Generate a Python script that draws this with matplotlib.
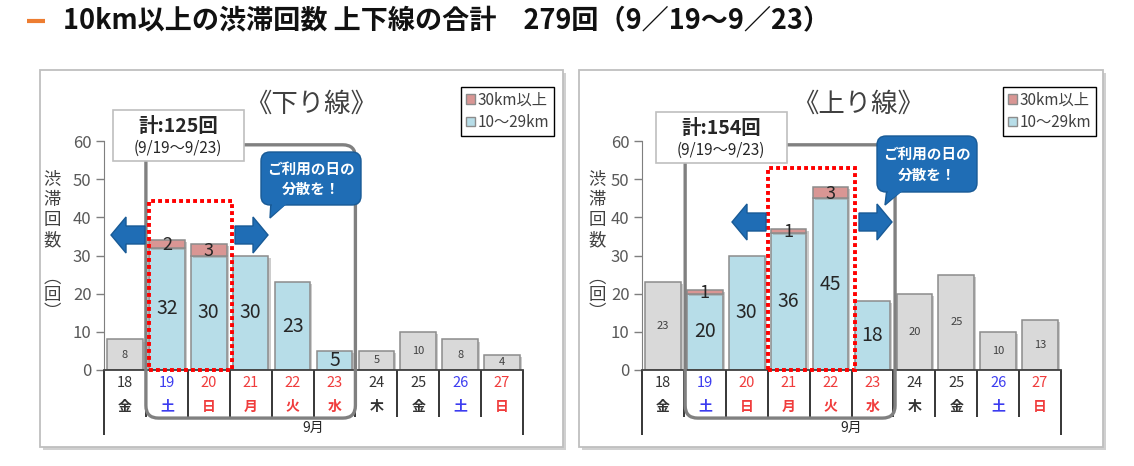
import matplotlib
matplotlib.use("Agg")
import matplotlib.pyplot as plt
import matplotlib.patheffects as pe
from matplotlib.patches import Rectangle, FancyBboxPatch, Polygon, Patch

plt.rcParams['font.family'] = ['Noto Sans CJK JP', 'DejaVu Sans']

# data
days = ['18', '19', '20', '21', '22', '23', '24', '25', '26', '27']
weekdays = ['金', '土', '日', '月', '火', '水', '木', '金', '土', '日']
day_colors = ['#333333', '#3c3cf0', '#f03c3c', '#f03c3c', '#f03c3c', '#f03c3c',
              '#333333', '#333333', '#3c3cf0', '#f03c3c']
down_short = [8, 32, 30, 30, 23, 5, 5, 10, 8, 4]      # 10~29km
down_long = [0, 2, 3, 0, 0, 0, 0, 0, 0, 0]            # 30km以上
up_short = [23, 20, 30, 36, 45, 18, 20, 25, 10, 13]
up_long = [0, 1, 0, 1, 3, 0, 0, 0, 0, 0]
period = [1, 2, 3, 4, 5]                              # 9/19~9/23

BLUE_BAR = '#b7dde8'
PINK_BAR = '#d99694'
GRAY_BAR = '#d9d9d9'
EDGE = '#8c8c8c'
CALLOUT = '#1f6db5'

W, H = 1134, 466
fig = plt.figure(figsize=(W / 100, H / 100), dpi=100)

# background layer in pixel coordinates
bg = fig.add_axes([0, 0, 1, 1], zorder=0)
bg.set_xlim(0, W)
bg.set_ylim(H, 0)
bg.axis('off')

# overlay layer for boxes, arrows, callouts
ov = fig.add_axes([0, 0, 1, 1], zorder=3)
ov.set_xlim(0, W)
ov.set_ylim(H, 0)
ov.axis('off')
ov.patch.set_alpha(0)

# header
bg.plot([27, 45], [21, 21], color='#ed7d31', lw=3, solid_capstyle='butt')
bg.text(63, 21, '10km以上の渋滞回数 上下線の合計　279回（9／19〜9／23）',
        fontsize=19.5, fontweight='bold', color='#111111', va='center', ha='left')

bar_shadow = [pe.SimplePatchShadow(offset=(1.5, -1.5), shadow_rgbFace='#9a9a9a', alpha=0.5),
              pe.Normal()]


def arrow(x_tail, x_tip, y):
    d = 1 if x_tip > x_tail else -1
    hl, hh, sh = 15, 18, 9
    pts = [(x_tail, y - sh), (x_tip - d * hl, y - sh), (x_tip - d * hl, y - hh),
           (x_tip, y), (x_tip - d * hl, y + hh), (x_tip - d * hl, y + sh), (x_tail, y + sh)]
    ov.add_patch(Polygon(pts, closed=True, fc=CALLOUT, ec='#185a96', lw=1))


def callout(x0, y0, w, h, tip):
    ov.add_patch(Polygon([(x0 + 10, y0 + h - 4), (x0 + 28, y0 + h - 4), tip],
                         closed=True, fc=CALLOUT, ec='#185a96', lw=1))
    ov.add_patch(FancyBboxPatch((x0, y0), w, h, boxstyle='round,pad=0,rounding_size=9',
                                fc=CALLOUT, ec='#185a96', lw=1))
    ov.add_patch(Polygon([(x0 + 11, y0 + h - 2), (x0 + 27, y0 + h - 2), (tip[0] + 2, tip[1] - 3)],
                         closed=True, fc=CALLOUT, ec='none'))
    ov.text(x0 + w / 2, y0 + h * 0.31, 'ご利用の日の', color='white', fontsize=10.5,
            fontweight='bold', ha='center', va='center')
    ov.text(x0 + w / 2, y0 + h * 0.69, '分散を！', color='white', fontsize=10.5,
            fontweight='bold', ha='center', va='center')


def panel(px, ax_x, short, long_, title, total, title_x, box_x, box_y,
          legend_right, dotted, rr, arrows, call, ylab_x):
    # panel frame with a light shadow
    bg.add_patch(Rectangle((px[0] + 3, 73), px[1] - px[0], 377, fc='#d0d0d0', ec='none'))
    bg.add_patch(Rectangle((px[0], 70), px[1] - px[0], 377, fc='white', ec='#bfbfbf', lw=1.3))

    ax = fig.add_axes([ax_x / W, (H - 370) / H, 419 / W, 229 / H], zorder=1)
    ax.patch.set_alpha(0)
    x = list(range(len(days)))
    colors = [BLUE_BAR if i in period else GRAY_BAR for i in x]
    b1 = ax.bar(x, short, width=0.85, color=colors, edgecolor=EDGE, lw=1.1, zorder=2)
    b2 = ax.bar(x, long_, bottom=short, width=0.85, color=PINK_BAR, edgecolor=EDGE, lw=1.1, zorder=2)
    for r in list(b1) + [r for r, v in zip(b2, long_) if v]:
        r.set_path_effects(bar_shadow)
    for r, v in zip(b2, long_):
        if not v:
            r.set_visible(False)

    for i in x:
        if i in period:
            ax.text(i, short[i] / 2, str(short[i]), ha='center', va='center',
                    fontsize=14, color='#262626', zorder=4)
            if long_[i]:
                ax.text(i, short[i] + long_[i] / 2 - 0.3, str(long_[i]), ha='center',
                        va='center', fontsize=13, color='#262626', zorder=4)
        else:
            ax.text(i, short[i] / 2, str(short[i]), ha='center', va='center',
                    fontsize=8, color='#404040', zorder=4)

    ax.set_xlim(-0.5, len(days) - 0.5)
    ax.set_ylim(0, 60)
    ax.set_yticks(range(0, 61, 10))
    ax.tick_params(axis='y', labelsize=12, labelcolor='#595959', color='#7f7f7f',
                   length=6, width=1, pad=3)
    ax.set_xticks([])
    for s in ['top', 'right']:
        ax.spines[s].set_visible(False)
    ax.spines['left'].set_color('#7f7f7f')
    ax.spines['bottom'].set_color('#404040')
    ax.spines['bottom'].set_linewidth(1.3)

    # category table below the axis
    bounds = [i + 0.5 for i in x[:-1]]
    ax.vlines(bounds, -12.3, 0, color='#262626', lw=1.3, clip_on=False, zorder=1)
    ax.vlines([-0.5, len(days) - 0.5], -17, 0, color='#262626', lw=1.3, clip_on=False)
    for i in x:
        ax.text(i, -3.4, days[i], ha='center', va='center', fontsize=10.5,
                color=day_colors[i])
        ax.text(i, -9.6, weekdays[i], ha='center', va='center', fontsize=10,
                fontweight='bold', color=day_colors[i])
    ax.text((len(days) - 1) / 2, -15.3, '9月', ha='center', va='center',
            fontsize=10, color='#262626')

    # grey rounded frame around the highlighted period
    asp = (419 / len(days)) / (229 / 60)
    ax.add_patch(FancyBboxPatch((rr[0], -12.6), rr[1] - rr[0], 71.6,
                                boxstyle='round,pad=0,rounding_size=0.3',
                                mutation_aspect=asp, fc='none', ec='#808080',
                                lw=2.4, clip_on=False, zorder=3))
    # red dotted box
    ax.add_patch(Rectangle((dotted[0], 0), dotted[1] - dotted[0], dotted[2], fc='none',
                           ec='#ff0000', lw=2.8, ls=(0, (1, 0.8)), clip_on=False, zorder=5))

    ax.legend(handles=[Patch(fc=PINK_BAR, ec=EDGE), Patch(fc=BLUE_BAR, ec=EDGE)],
              labels=['30km以上', '10〜29km'], loc='upper right',
              bbox_to_anchor=(legend_right / W, 1 - 87 / H), bbox_transform=fig.transFigure,
              fancybox=False, edgecolor='black', framealpha=1, fontsize=11,
              handlelength=0.6, handleheight=0.6, handletextpad=0.2, labelspacing=0.35,
              borderpad=0.3, borderaxespad=0, labelcolor='#404040')

    fig.text(title_x / W, 1 - 104 / H, title, ha='center', va='center',
             fontsize=19, color='#404040')

    # total box
    ov.add_patch(Rectangle((box_x, box_y), 131, 51, fc='white', ec='#bfbfbf', lw=1.2))
    ov.text(box_x + 65, box_y + 16, f'計:{total}回', fontsize=14, fontweight='bold',
            ha='center', va='center', color='#262626')
    ov.text(box_x + 65, box_y + 38, '(9/19〜9/23)', fontsize=11,
            ha='center', va='center', color='#262626')

    for a in arrows:
        arrow(*a)
    callout(*call)

    # vertical axis title
    bg.text(ylab_x, 210, '渋\n滞\n回\n数', ha='center', va='center', fontsize=12.5,
            color='#404040', linespacing=1.15)
    bg.text(ylab_x, 295, '︵\n回\n︶', ha='center', va='center', fontsize=12.5,
            color='#404040', linespacing=0.95)


panel((40, 563), 104, down_short, down_long, '《下り線》', 125, 311, 113, 110, 554,
      (0.58, 2.55, 44.2), (0.5, 5.5),
      [(145, 111, 235), (235, 268, 235)], (261, 152, 100, 53, (270, 218)), 52)
panel((579, 1103), 642, up_short, up_long, '《上り線》', 154, 858, 656, 112, 1096,
      (2.5, 4.58, 52.9), (0.53, 5.54),
      [(766, 732, 222), (859, 892, 222)], (877, 136, 100, 56, (885, 205)), 597)

fig.savefig('out.png', dpi=100)
